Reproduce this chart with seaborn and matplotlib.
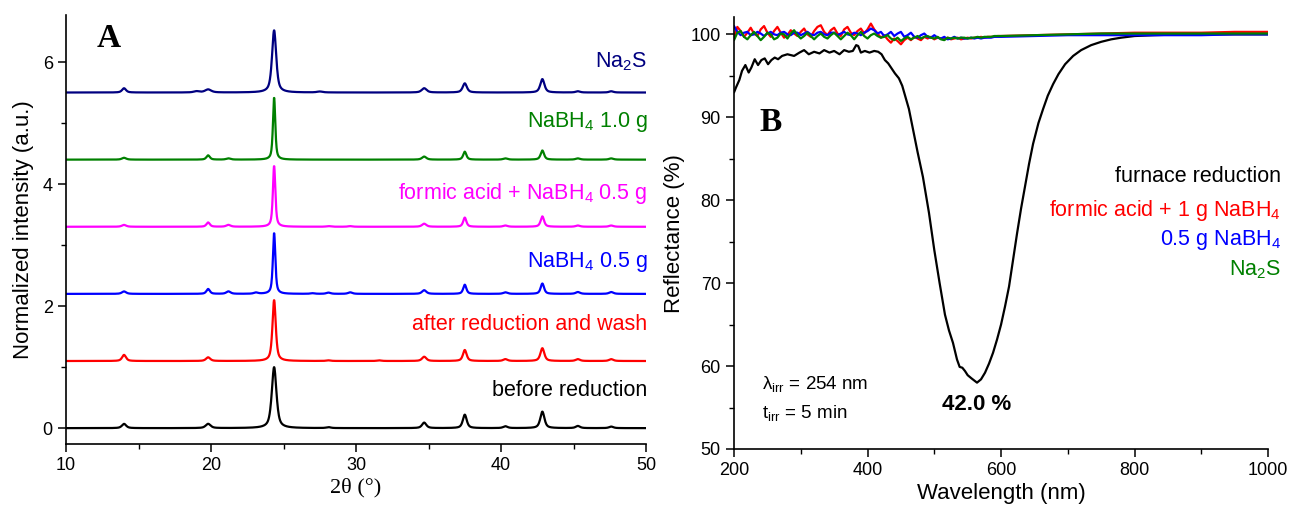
import numpy as np
import matplotlib
matplotlib.use("Agg")
import matplotlib.pyplot as plt
import seaborn as sns
from matplotlib.ticker import MultipleLocator

# ---------------- Panel A: XRD patterns (peak lists) ----------------
xrd_labels = ["before reduction", "after reduction and wash", r"NaBH$_4$ 0.5 g",
              r"formic acid + NaBH$_4$ 0.5 g", r"NaBH$_4$ 1.0 g", r"Na$_2$S"]
xrd_colors = ["#000000", "#ff0000", "#0000ff", "#ff00ff", "#008000", "#000080"]
xrd_offsets = [0.0, 1.1, 2.2, 3.3, 4.4, 5.5]
xrd_label_y = [0.62, 1.70, 2.72, 3.85, 5.02, 6.0]

pos_before = [14.0, 19.8, 24.35, 28.1, 34.7, 37.5, 40.3, 42.85, 45.3, 47.6]
amp_before = [0.07, 0.07, 1.00, 0.015, 0.09, 0.22, 0.03, 0.27, 0.035, 0.025]
fwhm_before = [0.35, 0.4, 0.38, 0.35, 0.35, 0.32, 0.35, 0.34, 0.35, 0.35]

pos_washed = [14.0, 19.8, 24.35, 28.1, 31.6, 34.7, 37.5, 40.3, 42.85, 45.3, 47.6]
amp_washed = [0.10, 0.06, 1.00, 0.01, 0.01, 0.07, 0.18, 0.03, 0.21, 0.03, 0.03]
fwhm_washed = [0.32, 0.35, 0.27, 0.35, 0.35, 0.35, 0.3, 0.35, 0.32, 0.35, 0.35]

pos_nabh4_05 = [14.0, 19.8, 21.2, 23.1, 24.35, 27.0, 28.1, 29.6, 34.7, 37.5, 40.3, 42.85, 45.3, 47.6]
amp_nabh4_05 = [0.04, 0.08, 0.04, 0.02, 1.00, 0.01, 0.02, 0.025, 0.06, 0.15, 0.025, 0.17, 0.03, 0.03]
fwhm_nabh4_05 = [0.35, 0.28, 0.35, 0.35, 0.2, 0.35, 0.35, 0.35, 0.35, 0.26, 0.35, 0.28, 0.35, 0.35]

pos_formic = [14.0, 19.8, 21.2, 24.35, 28.1, 29.6, 34.7, 37.5, 40.3, 42.85, 45.3, 47.6]
amp_formic = [0.03, 0.07, 0.03, 1.00, 0.01, 0.01, 0.05, 0.15, 0.02, 0.17, 0.02, 0.02]
fwhm_formic = [0.35, 0.28, 0.35, 0.2, 0.35, 0.35, 0.35, 0.26, 0.35, 0.28, 0.35, 0.35]

pos_nabh4_10 = [14.0, 19.8, 21.2, 24.35, 34.7, 37.5, 40.3, 42.85, 45.3, 47.6]
amp_nabh4_10 = [0.03, 0.07, 0.02, 1.02, 0.05, 0.13, 0.02, 0.15, 0.02, 0.02]
fwhm_nabh4_10 = [0.35, 0.28, 0.35, 0.19, 0.35, 0.26, 0.35, 0.28, 0.35, 0.35]

pos_na2s = [14.0, 19.0, 19.8, 24.35, 27.5, 34.7, 37.5, 42.85, 45.3, 47.6]
amp_na2s = [0.07, 0.02, 0.05, 1.02, 0.015, 0.07, 0.15, 0.22, 0.02, 0.02]
fwhm_na2s = [0.32, 0.45, 0.5, 0.34, 0.45, 0.4, 0.34, 0.34, 0.35, 0.35]

xrd_peaks = [(pos_before, amp_before, fwhm_before),
             (pos_washed, amp_washed, fwhm_washed),
             (pos_nabh4_05, amp_nabh4_05, fwhm_nabh4_05),
             (pos_formic, amp_formic, fwhm_formic),
             (pos_nabh4_10, amp_nabh4_10, fwhm_nabh4_10),
             (pos_na2s, amp_na2s, fwhm_na2s)]

# ---------------- Panel B: reflectance spectra ----------------
wl_furnace = [200, 203, 208, 212, 217, 222, 226, 231, 236, 241, 246, 251, 256, 261, 266,
              272, 280, 290, 298, 305, 312, 320, 328, 335, 343, 350, 358, 365, 372, 378,
              383, 386, 390, 396, 403, 410, 416, 421, 426, 431, 436, 441, 447, 452, 457,
              462, 468, 475, 483, 492, 500, 508, 516, 522, 528, 534, 538, 542, 546, 550,
              556, 564, 570, 576, 582, 588, 594, 600, 606, 612, 618, 624, 630, 636, 642,
              648, 656, 663, 670, 678, 686, 696, 708, 720, 735, 750, 765, 780, 800, 830,
              870, 920, 1000]
r_furnace = [93.0, 93.6, 94.5, 95.6, 96.3, 95.4, 96.0, 97.0, 96.3, 96.9, 97.1, 96.4, 96.9, 97.2, 97.0,
             97.4, 97.6, 97.4, 97.8, 98.1, 97.6, 97.9, 97.7, 98.1, 97.8, 98.0, 97.6, 98.1, 97.9, 98.0,
             98.7, 98.6, 97.8, 98.0, 97.8, 98.0, 97.9, 97.6, 96.9, 96.5, 95.9, 95.3, 94.7, 93.8, 92.4,
             91.0, 88.6, 85.8, 82.8, 78.5, 74.0, 70.0, 66.2, 64.3, 62.8, 60.8, 59.9, 59.8, 59.4, 58.9,
             58.5, 58.0, 58.4, 59.2, 60.3, 61.6, 63.2, 65.0, 67.2, 69.6, 72.8, 76.0, 79.0, 81.7, 84.4,
             86.8, 89.3, 91.0, 92.6, 94.0, 95.2, 96.4, 97.4, 98.1, 98.7, 99.1, 99.4, 99.6, 99.8, 99.9,
             100.0, 100.0, 100.0]

wl_grid = list(range(200, 601, 5)) + [650, 700, 750, 800, 850, 900, 950, 1000]
r_formic = [99.6, 100.9, 100.4, 99.7, 100.2, 100.8, 100.1, 99.8, 100.6, 101.0,
            100.2, 99.7, 100.4, 100.9, 100.2, 99.6, 99.9, 100.5, 100.1, 99.8,
            100.3, 100.7, 100.0, 99.7, 100.4, 100.9, 101.1, 100.3, 99.9, 100.5,
            100.8, 100.1, 99.8, 100.6, 100.9, 100.2, 99.9, 100.4, 100.7, 100.1,
            100.6, 101.3, 100.6, 100.1, 99.6, 99.9, 99.4, 99.0, 99.5, 99.2,
            98.8, 99.3, 99.6, 99.3, 99.7, 99.5, 99.3, 99.7, 99.5, 99.7,
            99.4, 99.6, 99.5, 99.4, 99.6, 99.4, 99.5, 99.6, 99.4, 99.5,
            99.6, 99.5, 99.6, 99.6, 99.7, 99.6, 99.7, 99.7, 99.7, 99.8,
            99.8, 99.9, 100.0, 100.1, 100.2, 100.2, 100.2, 100.3, 100.3]
r_nabh4 = [101.0, 100.3, 99.9, 100.2, 100.3, 99.9, 100.0, 100.3, 100.1, 99.8,
           100.1, 100.3, 100.0, 99.9, 100.2, 100.3, 100.0, 99.9, 100.2, 100.2,
           99.9, 100.1, 100.3, 100.0, 99.9, 100.2, 100.3, 100.0, 99.9, 100.2,
           100.2, 99.9, 100.1, 100.3, 100.0, 99.9, 100.2, 100.1, 99.9, 100.2,
           100.4, 100.7, 100.5, 100.1, 100.3, 99.8, 100.0, 100.3, 99.8, 100.1,
           100.3, 99.7, 99.9, 100.2, 99.7, 99.6, 99.9, 100.1, 99.7, 99.6,
           99.9, 99.6, 99.5, 99.7, 99.4, 99.5, 99.7, 99.5, 99.6, 99.5,
           99.5, 99.6, 99.5, 99.6, 99.5, 99.6, 99.6, 99.6, 99.7, 99.7,
           99.7, 99.8, 99.9, 99.9, 99.9, 99.9, 99.9, 100.0, 100.0]
r_na2s = [99.3, 100.2, 100.4, 99.7, 99.4, 99.9, 100.3, 99.8, 99.3, 99.7,
          100.2, 100.0, 99.4, 99.6, 100.1, 100.0, 99.5, 100.1, 100.5, 99.9,
          99.5, 99.8, 100.2, 99.8, 99.4, 99.8, 100.1, 99.7, 99.5, 99.9,
          100.2, 99.8, 99.4, 99.8, 100.2, 99.9, 99.4, 99.9, 100.3, 99.8,
          99.5, 99.9, 100.1, 99.8, 99.6, 99.7, 99.9, 99.5, 99.3, 99.6,
          99.2, 99.5, 99.7, 99.4, 99.6, 99.8, 99.5, 99.7, 99.8, 99.6,
          99.5, 99.7, 99.4, 99.3, 99.6, 99.5, 99.6, 99.5, 99.6, 99.6,
          99.5, 99.6, 99.6, 99.7, 99.6, 99.7, 99.7, 99.7, 99.8, 99.8,
          99.8, 99.9, 100.0, 100.1, 100.1, 100.1, 100.1, 100.1, 100.1]

refl_series = [(wl_furnace, r_furnace, "#000000"),
               (wl_grid, r_formic, "#ff0000"),
               (wl_grid, r_nabh4, "#0000ff"),
               (wl_grid, r_na2s, "#008000")]
refl_labels = ["furnace reduction", r"formic acid + 1 g NaBH$_4$",
               r"0.5 g NaBH$_4$", r"Na$_2$S"]
refl_label_y = [82.8, 78.8, 75.2, 71.6]
refl_label_colors = ["#000000", "#ff0000", "#0000ff", "#008000"]

# ---------------- style ----------------
sns.set_style("ticks")
plt.rcParams["font.family"] = ["Liberation Sans", "DejaVu Sans"]
plt.rcParams["mathtext.fontset"] = "custom"
plt.rcParams["mathtext.rm"] = "Liberation Sans"
plt.rcParams["mathtext.it"] = "Liberation Sans:italic"
plt.rcParams["mathtext.bf"] = "Liberation Sans:bold"
plt.rcParams["mathtext.default"] = "regular"
plt.rcParams["text.color"] = "black"
plt.rcParams["axes.labelcolor"] = "black"

fig = plt.figure(figsize=(12.9, 5.09), dpi=100)
axA = fig.add_axes([0.0512, 0.1277, 0.4496, 0.8428])
axB = fig.add_axes([0.5690, 0.1179, 0.4140, 0.8480])


def pseudo_voigt(x, pos, amp, fwhm, eta=0.65):
    x = x[:, None]
    pos = np.asarray(pos)[None, :]
    amp = np.asarray(amp)[None, :]
    w = np.asarray(fwhm)[None, :] / 2.0
    lor = 1.0 / (1.0 + ((x - pos) / w) ** 2)
    gau = np.exp(-np.log(2) * ((x - pos) / w) ** 2)
    return (amp * (eta * lor + (1 - eta) * gau)).sum(axis=1)


two_theta = np.arange(10.0, 50.0001, 0.02)
for (pos, amp, fw), off, col in zip(xrd_peaks, xrd_offsets, xrd_colors):
    sns.lineplot(x=two_theta, y=pseudo_voigt(two_theta, pos, amp, fw) + off,
                 ax=axA, color=col, lw=1.6, estimator=None, sort=False)

for lab, ly, col in zip(xrd_labels, xrd_label_y, xrd_colors):
    axA.text(50.1, ly, lab, color=col, fontsize=15.5, ha="right", va="center")

axA.set_xlim(10, 50)
axA.set_ylim(-0.26, 6.77)
axA.xaxis.set_major_locator(MultipleLocator(10))
axA.xaxis.set_minor_locator(MultipleLocator(5))
axA.yaxis.set_major_locator(MultipleLocator(2))
axA.yaxis.set_minor_locator(MultipleLocator(1))
axA.set_xlabel("2θ (°)", fontsize=16, family="Liberation Serif", labelpad=3)
axA.set_ylabel("Normalized intensity (a.u.)", fontsize=16, labelpad=6)
axA.text(12.97, 6.39, "A", fontsize=24, fontweight="bold", family="Liberation Serif",
         ha="center", va="center")

for wl, r, col in refl_series:
    sns.lineplot(x=wl, y=r, ax=axB, color=col, lw=1.6, estimator=None, sort=False)

for lab, ly, col in zip(refl_labels, refl_label_y, refl_label_colors):
    axB.text(1019, ly, lab, color=col, fontsize=15.5, ha="right", va="center")

min_refl = min(r_furnace)
wl_min = wl_furnace[r_furnace.index(min_refl)]
axB.text(wl_min, 55.4, f"{100 - min_refl:.1f} %", fontsize=16, fontweight="bold",
         ha="center", va="center")
axB.text(242, 57.8, r"λ$_{irr}$ = 254 nm", fontsize=13.5, ha="left", va="center")
axB.text(242, 54.3, r"t$_{irr}$ = 5 min", fontsize=13.5, ha="left", va="center")
axB.text(255, 89.4, "B", fontsize=24, fontweight="bold", family="Liberation Serif",
         ha="center", va="center")

axB.set_xlim(200, 1000)
axB.set_ylim(50, 102.05)
axB.xaxis.set_major_locator(MultipleLocator(200))
axB.xaxis.set_minor_locator(MultipleLocator(100))
axB.yaxis.set_major_locator(MultipleLocator(10))
axB.yaxis.set_minor_locator(MultipleLocator(5))
axB.set_xlabel("Wavelength (nm)", fontsize=16, labelpad=3)
axB.set_ylabel("Reflectance (%)", fontsize=16, labelpad=4)

for ax in (axA, axB):
    sns.despine(ax=ax)
    for s in ("left", "bottom"):
        ax.spines[s].set_linewidth(1.2)
        ax.spines[s].set_color("black")
    ax.tick_params(which="major", direction="out", length=6, width=1.1, labelsize=13,
                   colors="black")
    ax.tick_params(which="minor", direction="out", length=3.5, width=1.0, colors="black")

fig.savefig("out.png", dpi=100)
